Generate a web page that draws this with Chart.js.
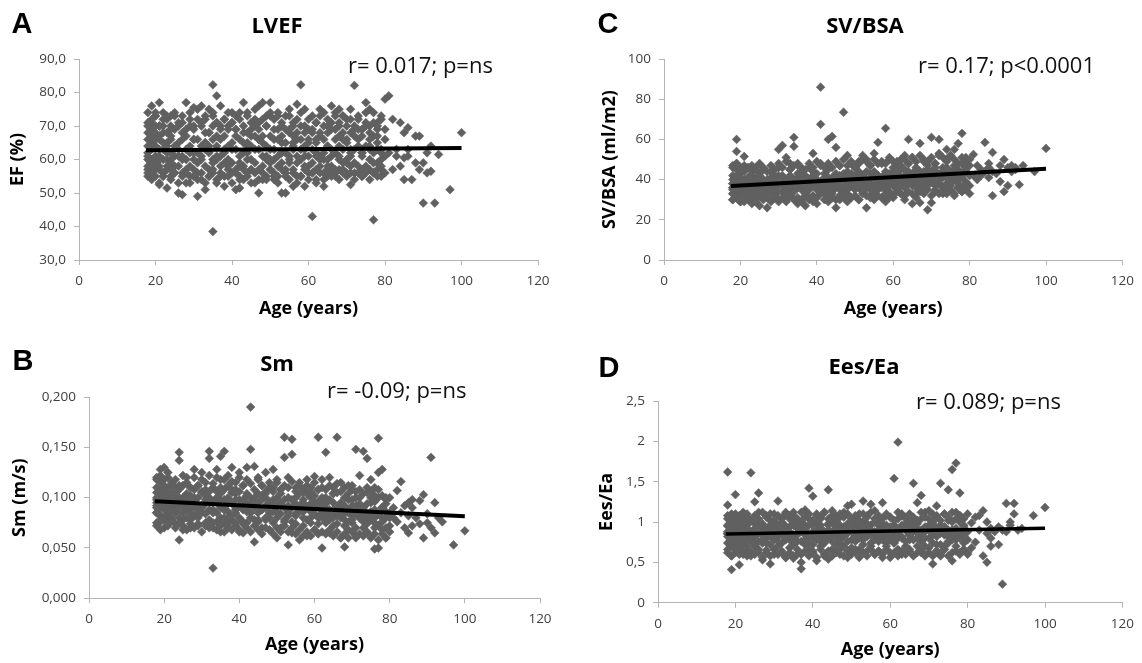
<!DOCTYPE html>
<html>
<head>
<meta charset="utf-8">
<title>Age correlations</title>
<script src="https://cdn.jsdelivr.net/npm/chart.js@4.4.1/dist/chart.umd.min.js"></script>
<style>
  body { margin: 0; background: #fff; }
  #page { position: relative; width: 1142px; height: 663px; overflow: hidden; font-family: "Open Sans", sans-serif; }
  .panel { position: absolute; }
  .lbl { position: absolute; line-height: 1; white-space: nowrap; color: #000; transform: translate(-50%, -50%); }
  .letter { font-family: "Liberation Sans", Arial, sans-serif; font-weight: bold; font-size: 29px; }
  .title { font-weight: bold; font-size: 22px; }
  .stat { font-size: 22px; color: #111; transform: translate(0, -50%); }
</style>
</head>
<body>
<div id="page">
  <div class="panel" style="left:0;top:0"><canvas id="chartA" width="571" height="330"></canvas></div>
  <div class="panel" style="left:571px;top:0"><canvas id="chartC" width="571" height="330"></canvas></div>
  <div class="panel" style="left:0;top:330px"><canvas id="chartB" width="571" height="333"></canvas></div>
  <div class="panel" style="left:571px;top:330px"><canvas id="chartD" width="571" height="333"></canvas></div>

  <div class="lbl letter" style="left:22px;top:23px">A</div>
  <div class="lbl letter" style="left:608px;top:23px">C</div>
  <div class="lbl letter" style="left:23px;top:360px">B</div>
  <div class="lbl letter" style="left:609px;top:367px">D</div>

  <div class="lbl title" style="left:277px;top:24px">LVEF</div>
  <div class="lbl title" style="left:865px;top:24px">SV/BSA</div>
  <div class="lbl title" style="left:277px;top:362px">Sm</div>
  <div class="lbl title" style="left:864px;top:365px">Ees/Ea</div>

  <div class="lbl stat" style="left:348px;top:64px">r= 0.017; p=ns</div>
  <div class="lbl stat" style="left:918px;top:64px">r= 0.17; p&lt;0.0001</div>
  <div class="lbl stat" style="left:327px;top:389px">r= -0.09; p=ns</div>
  <div class="lbl stat" style="left:916px;top:400px">r= 0.089; p=ns</div>
</div>

<script>
// age of every patient (years)
const ages = [
  18,18,18,18,18,19,19,19,19,19,
  19,20,20,20,20,20,21,21,21,21,
  21,22,22,22,22,23,23,23,23,24,
  24,24,24,25,25,25,26,26,26,27,
  27,27,28,28,28,29,29,29,30,30,
  30,31,31,31,32,32,32,33,33,33,
  34,34,34,35,35,35,35,36,36,36,
  37,37,37,38,38,38,39,39,39,40,
  40,40,41,41,41,42,42,42,43,43,
  43,44,44,44,45,45,45,46,46,46,
  47,47,47,48,48,48,49,49,49,50,
  50,50,51,51,51,52,52,52,53,53,
  53,54,54,54,55,55,55,56,56,56,
  57,57,57,58,58,58,59,59,59,60,
  60,60,61,61,61,62,62,62,63,63,
  63,64,64,64,65,65,65,66,66,66,
  67,67,67,68,68,68,69,69,69,70,
  70,70,71,71,71,72,72,72,73,73,
  73,74,74,74,75,75,75,76,76,76,
  77,77,77,78,78,78,79,79,79,80,
  18,18,18,18,18,19,19,19,19,19,
  19,20,20,20,20,20,21,21,21,21,
  21,22,22,22,22,23,23,23,23,24,
  24,24,24,25,25,25,26,26,26,27,
  27,27,28,28,28,29,29,29,30,30,
  30,31,31,31,32,32,32,33,33,33,
  34,34,34,35,35,35,35,36,36,36,
  37,37,37,38,38,38,39,39,39,40,
  40,40,41,41,41,42,42,42,43,43,
  43,44,44,44,45,45,45,46,46,46,
  47,47,47,48,48,48,49,49,49,50,
  50,50,51,51,51,52,52,52,53,53,
  53,54,54,54,55,55,55,56,56,56,
  57,57,57,58,58,58,59,59,59,60,
  60,60,61,61,61,62,62,62,63,63,
  63,64,64,64,65,65,65,66,66,66,
  67,67,67,68,68,68,69,69,69,70,
  70,70,71,71,71,72,72,72,73,73,
  73,74,74,74,75,75,75,76,76,76,
  77,77,77,78,78,78,79,79,79,80,
  80,81,81,82,82,83,83,84,84,85,
  85,85,86,86,86,87,88,88,89,89,
  90,90,91,91,92,92,93,94,97,100,
  18,18,19,19,20,20,21,21,22,22,
  23,23,24,24,25,25,26,26,27,27,
  28,28,29,29,30,30,31,31,32,32,
  33,33,34,34,35,35,36,36,37,37,
  38,38,39,39,40,40,41,41,42,42,
  43,43,44,44,45,45,46,46,47,47,
  48,48,49,49,50,50,51,51,52,52,
  53,53,54,54,55,55,56,56,57,57,
  58,58,59,59,60,60,61,61,62,62,
  63,63,64,64,65,65,66,66,67,67,
  68,68,69,69,70,70,71,71,72,72,
  73,73,74,74,75,75,76,76,77,77,
  78,78,79,79,80,80,18,19,20,21,
  30,36,44,50,56,62,68,74,78,24,
  27,33,39,47,53,59,65,71,76,42
];

// LVEF, EF (%)
const lvef = [
  55,62,68,74,58,76,60,65,71,57,
  64,73,59,66,55,70,52.5,61,77,67,
  58,63,72,56,68,51.5,65,73,60,57,
  70,62,66,73,58,64,50,61,71,49.5,
  56,66,77,60,53,74,64,58,75.5,62,
  55,49,72,66,60,76,54,51,68,63,
  57,75,64,82.3,38.5,70,59,79,53,67,
  76,61,55,72,63,52,69,58,74,65,
  56,71,51,63,73,51.5,66,59,77,62,
  54,74,60,68,57,71,64,53,67,72,
  50,63,76,58,77,65,55,70,61,77,
  60,67,54,72,63,74,58,66,50,70,
  62,50,73,57,68,60,75,52,64,71,
  76.5,59,66,82.3,55,70,52,63,75,58,
  69,61,43,56,73,65,54,71,60,75,
  67,52,62,74,58,70,64,76,56,61,
  73,55,66,60,75,57,68,63,56,72,
  59,66,52.5,75,62,82.1,56,70,64,58,
  73,55,67,61,77,58,70,75,60,64,
  42,74,56,67,59,71,55,63,60,66,
  60,66,70,57,64,59,67,72,63,69,
  56,61,68,64,58,74,63,70,57,60,
  66,60,55,65,70,62,58,68,64,73,
  59,67,55,61,69,56,65,58,63,68,
  60,71,63,57,67,62,70,55,60,66,
  69,59,62,56,64,70,61,58,65,72,
  62,68,55,66,60,73,56,64,71,61,
  58,66,70,59,67,62,55,64,60,71,
  63,59,67,57,69,61,74,55,65,58,
  68,62,56,65,60,67,57,63,70,59,
  66,57,69,61,54,67,60,73,64,57,
  63,73,60,56,66,61,69,55,65,59,
  67,62,56,65,59,69,61,67,57,63,
  61,68,55,63,60,66,58,68,61,65,
  56,66,59,63,68,57,62,66,58,68,
  61,56,66,60,64,55,68,63,71,58,
  62,69,57,64,70,61,59,66,73,60,
  65,56,68,61,58,67,63,59,69,56,
  66,62,69,57,64,71,56,63,57,68,
  62,67,59,65,57,69,62,58,73,61,
  78,79,62,72,57,61,63,71,58,68,
  54,60.5,69.5,63,61,54,67,59,67,57,
  59,47,56,62,56.5,64,47,61.5,51,68,
  56,71,54,69,57,73,53,70,55,74,
  57,72,54,69,56,74,53,70,55,73,
  56,69,53,72,57,70,54,75,56,71,
  53,73,55,68,57,74,54,71,56,69,
  55,72,57,70,53,74,56,69,54,72,
  57,70,55,73,53,69,56,75,54,71,
  56,72,54,70,57,74,55,69,53,73,
  57,71,55,69,54,73,56,70,53,72,
  55,74,57,70,54,72,56,69,53,71,
  56,73,54,70,57,72,55,69,56,74,
  54,71,57,73,55,70,56,72,54,69,
  56,72,55,69,57,74,54,70,56,71,
  55,70,57,72,56,69,61,64,66,60,
  66,60,64,59,65,61,67,62,63,60,
  61,65,59,66,62,64,60,63,66,58
];

// Sm (m/s)
const sm = [
  0.075,0.092,0.110,0.120,0.085,0.128,0.068,0.100,0.115,0.090,
  0.082,0.130,0.095,0.078,0.108,0.118,0.088,0.102,0.125,0.072,
  0.096,0.112,0.080,0.105,0.090,0.074,0.098,0.110,0.085,0.145,
  0.137,0.058,0.100,0.068,0.092,0.112,0.120,0.080,0.104,0.070,
  0.095,0.110,0.128,0.082,0.100,0.072,0.090,0.112,0.125,0.085,
  0.105,0.075,0.098,0.115,0.139,0.146,0.088,0.030,0.110,0.070,
  0.128,0.085,0.100,0.141,0.066,0.118,0.092,0.146,0.080,0.108,
  0.070,0.122,0.094,0.130,0.082,0.105,0.075,0.115,0.090,0.125,
  0.068,0.098,0.112,0.065,0.088,0.130,0.102,0.075,0.190,0.148,
  0.085,0.056,0.131,0.100,0.078,0.120,0.095,0.070,0.112,0.088,
  0.125,0.080,0.100,0.068,0.110,0.092,0.128,0.075,0.098,0.060,
  0.115,0.085,0.108,0.070,0.095,0.160,0.140,0.078,0.053,0.120,
  0.092,0.158,0.143,0.065,0.110,0.082,0.100,0.058,0.115,0.088,
  0.072,0.105,0.095,0.118,0.062,0.090,0.110,0.075,0.100,0.121,
  0.068,0.090,0.160,0.080,0.108,0.050,0.095,0.118,0.145,0.075,
  0.100,0.120,0.065,0.088,0.110,0.072,0.095,0.160,0.082,0.105,
  0.115,0.060,0.092,0.051,0.100,0.078,0.112,0.085,0.068,0.098,
  0.108,0.075,0.148,0.060,0.092,0.122,0.080,0.100,0.146,0.070,
  0.088,0.139,0.105,0.065,0.118,0.082,0.095,0.049,0.110,0.075,
  0.159,0.050,0.125,0.090,0.128,0.068,0.100,0.080,0.060,0.085,
  0.095,0.105,0.085,0.100,0.090,0.108,0.082,0.095,0.078,0.105,
  0.098,0.088,0.102,0.092,0.080,0.098,0.110,0.085,0.094,0.104,
  0.082,0.096,0.088,0.100,0.078,0.092,0.105,0.086,0.100,0.090,
  0.080,0.096,0.108,0.085,0.100,0.078,0.094,0.088,0.098,0.085,
  0.102,0.078,0.090,0.098,0.108,0.085,0.100,0.080,0.092,0.106,
  0.090,0.084,0.102,0.094,0.078,0.100,0.106,0.085,0.096,0.088,
  0.095,0.076,0.106,0.090,0.098,0.080,0.104,0.088,0.098,0.075,
  0.086,0.100,0.080,0.095,0.108,0.078,0.098,0.085,0.104,0.092,
  0.080,0.106,0.092,0.098,0.076,0.090,0.086,0.104,0.095,0.080,
  0.100,0.092,0.078,0.090,0.104,0.085,0.076,0.098,0.088,0.102,
  0.090,0.078,0.104,0.096,0.085,0.080,0.094,0.106,0.086,0.092,
  0.080,0.100,0.092,0.084,0.104,0.090,0.076,0.098,0.088,0.082,
  0.100,0.076,0.090,0.098,0.084,0.094,0.074,0.104,0.086,0.092,
  0.086,0.080,0.098,0.090,0.104,0.078,0.094,0.086,0.080,0.096,
  0.084,0.102,0.092,0.074,0.096,0.086,0.080,0.100,0.090,0.082,
  0.094,0.084,0.078,0.098,0.088,0.080,0.104,0.090,0.074,0.086,
  0.080,0.095,0.086,0.072,0.092,0.084,0.098,0.076,0.088,0.082,
  0.092,0.078,0.086,0.100,0.070,0.088,0.080,0.094,0.084,0.076,
  0.090,0.080,0.094,0.074,0.086,0.100,0.078,0.088,0.070,0.096,
  0.084,0.072,0.100,0.080,0.090,0.076,0.094,0.070,0.086,0.080,
  0.072,0.080,0.090,0.107,0.076,0.116,0.085,0.070,0.092,0.095,
  0.065,0.082,0.090,0.072,0.098,0.080,0.097,0.074,0.103,0.060,
  0.075,0.084,0.140,0.070,0.095,0.065,0.080,0.076,0.053,0.067,
  0.072,0.118,0.076,0.122,0.070,0.112,0.074,0.120,0.078,0.115,
  0.070,0.118,0.075,0.112,0.072,0.122,0.068,0.115,0.074,0.110,
  0.070,0.120,0.074,0.112,0.066,0.118,0.072,0.108,0.070,0.122,
  0.075,0.114,0.068,0.120,0.072,0.110,0.066,0.118,0.074,0.112,
  0.068,0.116,0.072,0.108,0.066,0.120,0.074,0.112,0.070,0.118,
  0.066,0.114,0.072,0.108,0.068,0.118,0.064,0.112,0.070,0.106,
  0.068,0.115,0.064,0.110,0.070,0.118,0.066,0.108,0.072,0.112,
  0.066,0.110,0.070,0.116,0.064,0.106,0.068,0.112,0.062,0.108,
  0.066,0.112,0.062,0.106,0.068,0.115,0.064,0.108,0.066,0.110,
  0.064,0.108,0.068,0.112,0.062,0.104,0.066,0.114,0.060,0.106,
  0.064,0.110,0.060,0.104,0.066,0.112,0.062,0.106,0.064,0.108,
  0.062,0.104,0.066,0.110,0.060,0.106,0.064,0.102,0.058,0.108,
  0.064,0.102,0.060,0.098,0.066,0.100,0.098,0.092,0.102,0.096,
  0.092,0.088,0.095,0.086,0.090,0.084,0.088,0.082,0.090,0.094,
  0.090,0.096,0.088,0.092,0.085,0.090,0.086,0.084,0.080,0.094
];

// SV/BSA (ml/m2)
const svBsa = [
  30,36,42,47,33,60,39,45,31,54,
  48,35,43,29,40,46,32,51.5,38,44,
  29,41,35,46,31,38,44,28,42,33,
  46,30,39,36,27,43,45,31,38,26,
  40,33,44,29,37,31,42,36,55,30,
  46,57,34,42,29,51,39,45,32,48,
  61,56.5,35,41,28,47,36,30,44,38,
  27,42,36,46,31,39,53,29,44,35,
  40,28,86,67.5,48,33,43,37,60,29,
  45,61.5,38,31,56,26,42,35,47,30,
  73.5,40,33,52,29,44,37,48,31,42,
  36,46,30,41,49,34,52,39,26,44,
  50,32,40,47,36,53,30,58.5,42,35,
  38,48,31,65.5,29,44,40,50,34,46,
  37,31,43,49,35,41,47,33,30,52,
  45,60,38,48,28,42,51,36,46,33,
  58,28.5,44,39,49,34,25,42,47,28.5,
  61,40,35,48,43,60,38,53,33,46,
  41,50,36,55,44,38,52,47,33,55,
  58,42,36,63,48,34,45,38,51,42,
  36,40,33,38,35,41,37,34,39,36,
  42,35,39,33,37,41,34,38,40,36,
  32,38,41,35,37,33,39,36,42,38,
  35,40,33,38,42,36,34,40,37,35,
  39,36,41,34,38,40,35,38,42,37,
  34,39,37,41,36,33,40,38,35,42,
  37,40,34,39,43,36,38,41,35,39,
  38,33,41,36,40,35,38,42,37,40,
  36,43,39,34,38,41,36,40,38,35,
  41,37,34,40,38,43,36,39,42,37,
  40,36,43,38,35,41,39,37,43,38,
  35,41,38,44,36,40,37,42,39,36,
  40,38,43,35,41,37,44,39,36,42,
  41,36,39,43,38,35,42,37,40,44,
  39,43,36,41,38,45,40,37,42,39,
  36,41,44,38,40,37,43,39,45,38,
  41,38,44,36,42,39,45,40,37,43,
  39,44,41,37,46,40,38,43,36,42,
  44,38,42,46,39,41,37,45,40,43,
  40,45,38,43,41,36,46,39,44,37,
  47,52.5,42,47,40,45,42,58.5,44,46,
  41,48,53.5,32,44,43,39,47,34,50,
  37,46,44,47,45,46,37.5,47,44,55.5,
  30,46,31,48,29,45,32,47,30,46,
  31,47,29,45,32,48,30,46,31,44,
  30,47,32,45,29,48,31,46,30,49,
  32,45,30,47,31,48,29,46,32,45,
  30,48,32,46,31,49,33,47,30,46,
  31,48,33,46,30,49,32,47,31,50,
  33,47,31,49,32,46,30,48,33,50,
  32,49,31,47,33,50,32,48,31,49,
  33,48,31,51,32,49,34,47,33,50,
  32,50,34,48,33,51,31,49,34,52,
  33,50,35,49,32,51,34,48,33,52,
  34,51,33,49,35,52,32,50,36,48,
  34,51,35,49,33,50,38,35,40,37,
  38,37,41,39,42,40,44,41,42,36,
  39,37,40,42,38,43,41,44,45,39
];

// Ees/Ea
const eesEa = [
  0.66,1.62,0.85,1.21,0.95,0.41,1.05,0.75,0.58,0.92,
  1.10,1.34,0.70,0.88,1.02,0.62,0.47,0.96,0.80,1.08,
  0.68,1.12,0.74,0.90,0.60,1.00,0.82,0.64,1.06,1.61,
  0.58,0.88,0.76,1.25,0.70,0.98,1.36,0.62,1.12,0.53,
  0.92,0.78,1.08,0.65,0.86,0.48,1.02,0.72,0.95,0.60,
  1.10,1.26,0.70,0.90,1.05,0.62,0.84,1.12,0.56,0.95,
  0.68,1.08,0.84,0.55,1.00,0.76,1.12,0.92,0.60,1.04,
  0.42,0.88,0.50,1.15,0.72,0.96,1.42,0.66,1.04,1.32,
  0.80,0.64,1.10,0.52,0.90,1.06,0.70,0.96,0.58,1.12,
  0.82,1.40,0.54,0.98,1.14,0.66,0.88,1.08,0.62,0.94,
  0.74,1.06,0.60,0.90,1.12,0.70,1.20,0.56,0.98,1.22,
  0.68,0.88,1.04,0.62,0.80,1.10,0.66,0.94,1.26,0.72,
  1.00,0.64,1.08,0.84,1.22,0.70,0.96,1.14,0.60,0.88,
  0.76,1.02,0.64,1.24,0.56,0.92,1.08,0.70,0.96,0.82,
  1.06,0.62,1.54,0.74,0.96,1.99,0.66,1.04,0.80,1.10,
  0.60,0.92,1.06,0.70,0.84,1.00,0.64,1.48,0.78,0.98,
  1.24,0.70,0.92,1.33,0.62,1.04,0.80,0.58,1.12,0.68,
  1.14,0.90,0.48,1.00,0.74,1.20,0.64,1.06,1.48,0.72,
  0.58,1.10,0.84,0.66,1.40,0.76,1.02,1.65,0.52,0.90,
  1.73,0.70,1.12,1.36,0.60,1.08,0.84,0.66,0.96,0.62,
  0.86,0.96,0.74,1.04,0.82,0.90,0.70,1.00,0.80,0.88,
  0.76,0.94,0.84,1.04,0.78,0.92,0.72,0.98,0.86,0.80,
  0.94,0.72,0.98,0.82,0.88,0.78,0.92,0.70,0.96,0.84,
  0.80,1.02,0.86,0.74,0.92,0.82,0.76,0.96,0.86,0.74,
  0.84,0.98,0.80,0.92,0.74,0.88,0.96,0.82,0.78,1.00,
  0.86,0.76,0.96,0.82,0.92,0.74,1.00,0.86,0.78,0.90,
  0.94,0.78,0.88,0.72,0.96,0.84,0.80,0.98,0.76,0.86,
  0.92,0.76,1.00,0.84,0.78,0.90,0.82,0.96,0.74,0.88,
  0.96,0.72,0.86,0.98,0.78,0.84,0.92,0.76,0.88,0.80,
  0.74,0.90,0.80,0.96,0.84,0.76,1.00,0.82,0.94,0.72,
  0.86,0.96,0.78,0.84,0.94,0.82,0.90,0.76,0.86,1.00,
  0.92,0.78,0.96,0.84,0.76,0.92,0.86,0.80,0.98,0.84,
  0.78,0.92,0.82,0.98,0.74,0.90,0.84,0.78,1.00,0.86,
  0.96,0.82,0.90,0.78,0.86,0.98,0.74,0.90,0.82,0.94,
  0.88,0.78,0.96,0.84,0.74,0.90,0.86,0.80,0.96,0.92,
  0.82,0.98,0.76,0.90,0.96,0.84,0.78,0.92,0.88,1.02,
  0.86,0.80,0.98,0.76,0.90,0.84,0.94,0.70,0.88,0.96,
  0.80,0.94,0.84,0.88,0.98,0.72,0.92,0.82,0.90,0.86,
  0.96,0.70,0.88,0.94,0.82,0.90,0.74,1.00,0.86,0.78,
  0.84,0.92,0.78,1.00,0.86,0.80,0.94,0.74,0.90,0.88,
  0.78,0.99,0.68,1.06,0.75,0.90,1.08,1.14,0.58,0.50,
  0.86,1.00,0.80,0.92,0.70,0.88,0.72,0.94,0.23,0.90,
  1.23,0.88,1.00,0.96,1.23,1.10,0.90,0.92,1.08,1.18,
  0.62,1.08,0.58,1.04,0.66,1.10,0.60,1.02,0.64,1.06,
  0.58,1.10,0.64,1.02,0.60,1.08,0.66,1.04,0.56,1.12,
  0.62,1.06,0.58,1.10,0.66,1.02,0.60,1.08,0.64,1.04,
  0.56,1.10,0.62,1.04,0.58,1.08,0.66,1.02,0.60,1.12,
  0.64,1.06,0.58,1.10,0.62,1.02,0.56,1.08,0.66,1.04,
  0.60,1.12,0.64,1.04,0.58,1.08,0.62,1.02,0.66,1.10,
  0.58,1.06,0.64,1.10,0.60,1.04,0.66,1.08,0.56,1.02,
  0.62,1.10,0.58,1.06,0.66,1.12,0.60,1.04,0.64,1.08,
  0.60,1.04,0.66,1.10,0.56,1.06,0.62,1.02,0.58,1.12,
  0.64,1.08,0.60,1.04,0.66,1.10,0.58,1.06,0.62,1.02,
  0.66,1.12,0.60,1.06,0.62,1.04,0.58,1.10,0.64,1.08,
  0.60,1.02,0.66,1.10,0.58,1.06,0.62,1.12,0.64,1.04,
  0.62,1.08,0.66,1.04,0.60,1.10,0.88,0.92,0.84,0.86,
  0.90,0.84,0.88,0.92,0.86,0.90,0.82,0.94,0.88,0.86,
  0.92,0.86,0.84,0.90,0.94,0.88,0.86,0.92,0.90,0.84
];

// regression lines (start / end)
const trendAges = [17.5, 100];
const trendLvef = [62.75, 63.4];
const trendSm = [0.0965, 0.0815];
const trendSvBsa = [36.8, 45.4];
const trendEesEa = [0.852, 0.922];

const xTicks = [0, 20, 40, 60, 80, 100, 120];

const tickColor = '#404040';
const axisColor = '#b4b4b4';
const dotColor = '#606060';

function makePanel(id, p) {
  const ctx = document.getElementById(id).getContext('2d');
  const points = ages.map((a, i) => ({ x: a, y: p.values[i] }));
  const line = trendAges.map((a, i) => ({ x: a, y: p.trend[i] }));

  return new Chart(ctx, {
    type: 'scatter',
    data: {
      datasets: [{
        data: line,
        showLine: true,
        borderColor: '#000',
        borderWidth: p.lineWidth,
        pointRadius: 0,
        order: 0
      }, {
        data: points,
        pointStyle: 'rectRot',
        pointRadius: 4.4,
        backgroundColor: dotColor,
        borderColor: dotColor,
        borderWidth: 0.5,
        order: 1
      }]
    },
    options: {
      responsive: false,
      animation: false,
      layout: { padding: { left: 0, right: p.padRight, top: p.padTop, bottom: 0 } },
      plugins: {
        legend: { display: false },
        tooltip: { enabled: false }
      },
      scales: {
        x: {
          type: 'linear',
          min: xTicks[0],
          max: xTicks[xTicks.length - 1],
          afterBuildTicks: s => { s.ticks = xTicks.map(v => ({ value: v })); },
          afterFit: s => { s.height = p.xHeight; },
          ticks: { color: tickColor, font: { family: 'Open Sans', size: 13.5 }, padding: 8, maxRotation: 0 },
          grid: { drawOnChartArea: false, tickLength: 5, color: axisColor },
          border: { color: axisColor },
          title: {
            display: true,
            text: 'Age (years)',
            color: '#000',
            font: { family: 'Open Sans', size: 18, weight: 'bold' },
            padding: { top: 0, bottom: p.xTitlePad }
          }
        },
        y: {
          min: p.min,
          max: p.max,
          afterFit: s => { s.width = p.yWidth; },
          ticks: {
            stepSize: p.step,
            color: tickColor,
            font: { family: 'Open Sans', size: 13.5 },
            padding: 8,
            callback: p.fmt
          },
          grid: { drawOnChartArea: false, tickLength: 5, color: axisColor },
          border: { color: axisColor },
          title: {
            display: true,
            text: p.yTitle,
            color: '#000',
            font: { family: 'Open Sans', size: 18, weight: 'bold' },
            padding: { top: p.yTitlePad, bottom: 0 }
          }
        }
      }
    }
  });
}

makePanel('chartA', {
  values: lvef, trend: trendLvef, lineWidth: 4,
  min: 30, max: 90, step: 10, fmt: v => v.toFixed(1).replace('.', ','),
  yTitle: 'EF (%)',
  padTop: 59, padRight: 33, yWidth: 79, xHeight: 70, yTitlePad: 7, xTitlePad: 10.7
});

makePanel('chartC', {
  values: svBsa, trend: trendSvBsa, lineWidth: 4,
  min: 0, max: 100, step: 20, fmt: v => String(v),
  yTitle: 'SV/BSA (ml/m2)',
  padTop: 59, padRight: 14.5, yWidth: 93, xHeight: 70, yTitlePad: 28, xTitlePad: 10.7
});

makePanel('chartB', {
  values: sm, trend: trendSm, lineWidth: 4,
  min: 0, max: 0.2, step: 0.05, fmt: v => v.toFixed(3).replace('.', ','),
  yTitle: 'Sm (m/s)',
  padTop: 67, padRight: 31, yWidth: 89, xHeight: 64.7, yTitlePad: 9, xTitlePad: 7.2
});

makePanel('chartD', {
  values: eesEa, trend: trendEesEa, lineWidth: 3.5,
  min: 0, max: 2.5, step: 0.5, fmt: v => String(Math.round(v * 10) / 10).replace('.', ','),
  yTitle: 'Ees/Ea',
  padTop: 71, padRight: 15.6, yWidth: 87, xHeight: 60.3, yTitlePad: 25, xTitlePad: 2.2
});
</script>
</body>
</html>
